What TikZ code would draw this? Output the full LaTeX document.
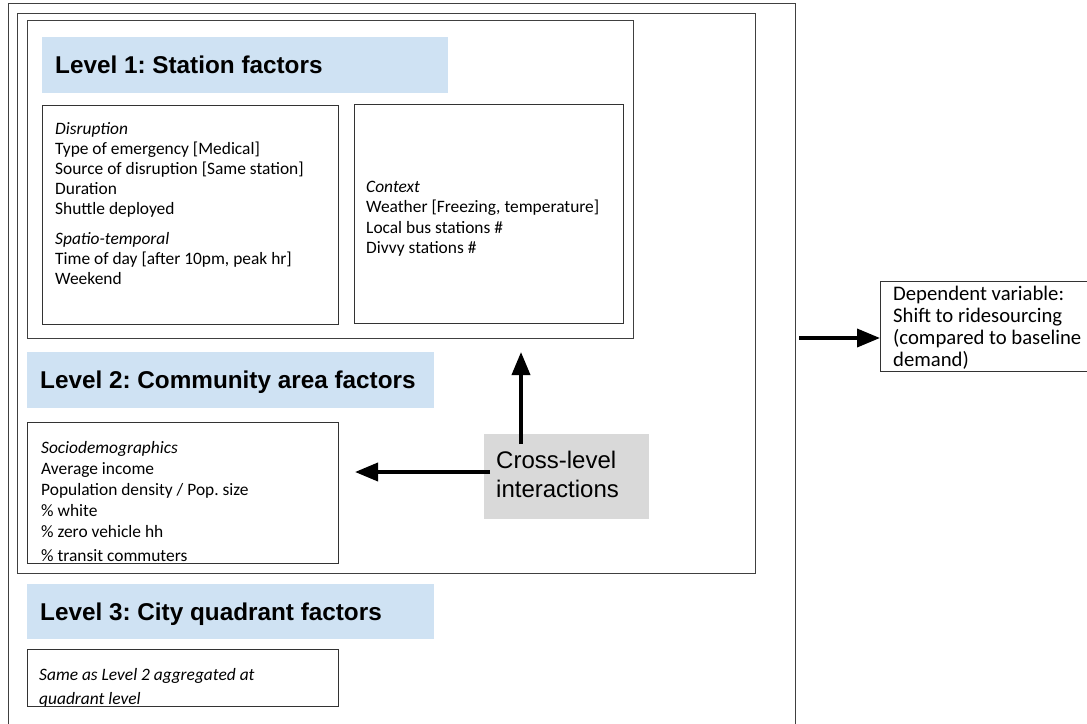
\documentclass[tikz,border=0pt]{standalone}
\usepackage{fontspec}
\setmainfont{Carlito}
\newfontfamily\headfont{Liberation Sans}
\usetikzlibrary{positioning,calc,arrows.meta}
\definecolor{levelblue}{RGB}{207,226,243}
\definecolor{crossgray}{RGB}{217,217,217}
\frenchspacing

\begin{document}
\begin{tikzpicture}[x=1pt,y=-1pt,
    frame/.style={draw=black!75, line width=1pt},
    factorbox/.style={draw=black!80, line width=1pt, anchor=north west, inner sep=0pt},
    levelbar/.style={fill=levelblue, anchor=north west, inner sep=0pt},
    leveltext/.style={font=\headfont\bfseries\fontsize{24.3}{28}\selectfont, anchor=base west, inner sep=0pt},
    factortext/.style={font=\fontsize{17.4}{20}\selectfont, align=left, anchor=base west, inner sep=0pt},
    bigarrow/.style={-{Triangle[length=23pt,width=18pt]}, line width=3.7pt}]

\useasboundingbox (0,0) rectangle (1087,723);

% nested frames
\draw[frame] (8,3) rectangle (795,760);
\draw[frame] (17,13) rectangle (755,573);
\draw[frame] (27,20) rectangle (633,338);

% level 1
\node[levelbar, minimum width=406, minimum height=56] (bar1) at (42,37) {};
\node[leveltext] (lev1) at (55,73.5) {Level 1: Station factors};

\node[factorbox, minimum width=296, minimum height=219] (disrbox) at (42,105) {};
\node[factortext] (disrtext) at (55,284) {\textit{Disruption}\\Type of emergency [Medical]\\Source of disruption [Same station]\\Duration\\Shuttle deployed\\[9.3pt]\textit{Spatio-temporal}\\Time of day [after 10pm, peak hr]\\Weekend};

\node[factorbox, minimum width=269, minimum height=219] (ctxbox) at (354,104) {};
\node[factortext, font=\fontsize{17.4}{20.5}\selectfont] (ctxtext) at (366,253.5) {\textit{Context}\\Weather [Freezing, temperature]\\Local bus stations \#\\Divvy stations \#};

% level 2
\node[levelbar, minimum width=407, minimum height=56] (bar2) at (27,352) {};
\node[leveltext] (lev2) at (40,388.5) {Level 2: Community area factors};

\node[factortext, font=\fontsize{17.4}{21}\selectfont] (sociotext) at (41,561) {\textit{Sociodemographics}\\Average income\\Population density / Pop. size\\\% white\\\% zero vehicle hh\\[3pt]\% transit commuters};
\node[factorbox, minimum width=311, minimum height=141] (sociobox) at (27,422) {};

% level 3
\node[levelbar, minimum width=407, minimum height=55] (bar3) at (27,584) {};
\node[leveltext] (lev3) at (40,620) {Level 3: City quadrant factors};

\node[factortext, font=\itshape\fontsize{17.4}{24}\selectfont] (sametext) at (39,704) {Same as Level 2 aggregated at\\quadrant level};
\node[factorbox, minimum width=311, minimum height=57] (samebox) at (27,649) {};

% cross-level interactions
\node[fill=crossgray, anchor=north west, inner sep=0pt, minimum width=165, minimum height=85] (crossbox) at (484,434) {};
\node[font=\headfont\fontsize{24}{29}\selectfont, align=left, anchor=base west, inner sep=0pt] (crosstext) at (496,497) {Cross-level\\interactions};

\coordinate (upTip) at (521,352);
\coordinate (leftTip) at (355,472);
\draw[bigarrow] ($(crossbox.north -| upTip)+(0,10)$) -- (upTip);
\draw[bigarrow] ($(crossbox.west |- leftTip)+(6,0)$) -- (leftTip);

% dependent variable
\node[factorbox, minimum width=230, minimum height=90] (depbox) at (880,281) {};
\node[factortext, font=\fontsize{20.7}{21.7}\selectfont] (deptext) at (893,366) {Dependent variable:\\Shift to ridesourcing\\(compared to baseline\\demand)};

\coordinate (depStart) at (799,338);
\draw[bigarrow] (depStart) -- (depStart -| depbox.west);

\end{tikzpicture}
\end{document}
